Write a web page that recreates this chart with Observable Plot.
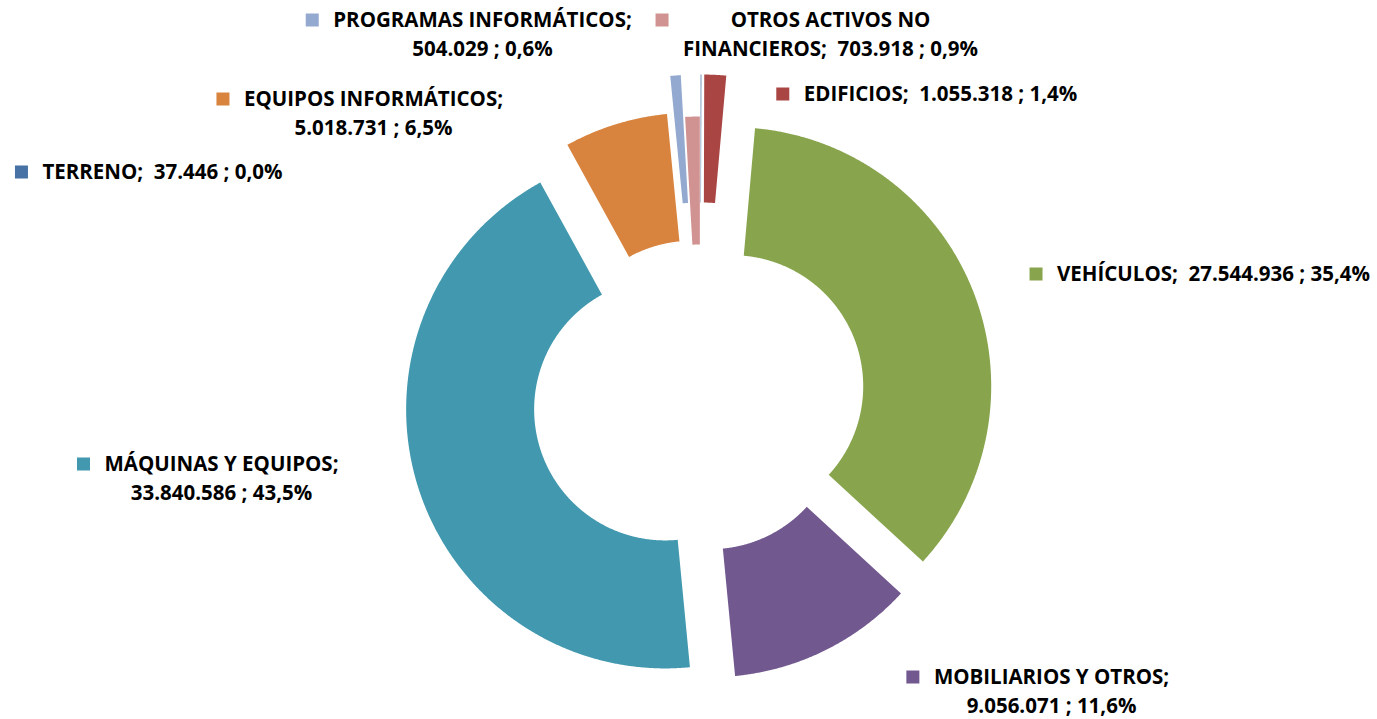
<!DOCTYPE html>
<html><head><meta charset="utf-8">
<script src="https://cdn.jsdelivr.net/npm/d3@7"></script>
<script src="https://cdn.jsdelivr.net/npm/@observablehq/plot@0.6"></script>
<style>body{margin:0;background:#fff;} svg text{white-space:pre;}</style>
</head><body><div id="chart"></div>
<script>
// ---- data ----
const categories = ["TERRENO","EDIFICIOS","VEHÍCULOS","MOBILIARIOS Y OTROS","MÁQUINAS Y EQUIPOS","EQUIPOS INFORMÁTICOS","PROGRAMAS INFORMÁTICOS","OTROS ACTIVOS NO FINANCIEROS"];
const values = [37446, 1055318, 27544936, 9056071, 33840586, 5018731, 504029, 703918];
// ---- style / layout ----
const colors = ["#4672A6","#A94644","#88A54E","#71588F","#4198AF","#D9843E","#93A9CF","#D19392"];
const explode = [65, 65, 34, 22, 37, 28, 65, 23];
const labelLayout = [
  {x:162, y:172, br:null},
  {x:940, y:94, br:null},
  {x:1213, y:274, br:null},
  {x:1051, y:677, br:";"},
  {x:221, y:464, br:";"},
  {x:373, y:99, br:";"},
  {x:482, y:20, br:";"},
  {x:830, y:20, br:"ACTIVOS NO"}
];
const W = 1377, H = 719, CX = 700, CY = 398, R = 259, RI = 131;
const FONT_SIZE = 20.5, FONT = "Open Sans", LINE_GAP = 28.5, SQ = 13, SQ_GAP = 14;

const loc = d3.formatLocale({decimal: ",", thousands: ".", grouping: [3], currency: ["", ""]});
const fmtV = loc.format(",d"), fmtP = loc.format(".1%");
const total = d3.sum(values);

// slices as closed polygons
const arcs = d3.pie().sort(null).value(d => d)(values);
const pts = [];
arcs.forEach((a, i) => {
  const mid = (a.startAngle + a.endAngle) / 2;
  const ox = CX + explode[i] * Math.sin(mid), oy = CY - explode[i] * Math.cos(mid);
  const n = Math.max(2, Math.ceil((a.endAngle - a.startAngle) / (Math.PI / 720)) + 1);
  for (let k = 0; k < n; k++) {
    const t = a.startAngle + (a.endAngle - a.startAngle) * k / (n - 1);
    pts.push({cat: categories[i], x: ox + R * Math.sin(t), y: oy - R * Math.cos(t)});
  }
  for (let k = n - 1; k >= 0; k--) {
    const t = a.startAngle + (a.endAngle - a.startAngle) * k / (n - 1);
    pts.push({cat: categories[i], x: ox + RI * Math.sin(t), y: oy - RI * Math.cos(t)});
  }
});

// labels
const ctx = document.createElement("canvas").getContext("2d");
ctx.font = `bold ${FONT_SIZE}px "${FONT}"`;
const textRows = [], squares = [];
categories.forEach((c, i) => {
  const full = `${c};  ${fmtV(values[i])} ; ${fmtP(values[i] / total)}`;
  const L = labelLayout[i];
  let lines = [full];
  if (L.br) {
    const idx = full.indexOf(L.br) + L.br.length;
    lines = [full.slice(0, idx).trim(), full.slice(idx).trim()];
  }
  const maxW = d3.max(lines, s => ctx.measureText(s).width);
  lines.forEach((s, j) => textRows.push({text: s, x: L.x, y: L.y + j * LINE_GAP}));
  const x2 = L.x - maxW / 2 - SQ_GAP;
  squares.push({cat: c, x1: x2 - SQ, x2: x2, y1: L.y - SQ / 2, y2: L.y + SQ / 2});
});

const chart = Plot.plot({
  width: W, height: H, margin: 0,
  x: {domain: [0, W], range: [0, W], axis: null},
  y: {domain: [0, H], range: [0, H], axis: null},
  color: {domain: categories, range: colors},
  style: {fontFamily: `"${FONT}"`, background: "#fff"},
  marks: [
    Plot.line(pts, {x: "x", y: "y", z: "cat", fill: "cat", stroke: "none", curve: "linear-closed"}),
    Plot.rect(squares, {x1: "x1", x2: "x2", y1: "y1", y2: "y2", fill: "cat"}),
    Plot.text(textRows, {x: "x", y: "y", text: "text", fontSize: FONT_SIZE, fontWeight: "bold", fill: "#000", textAnchor: "middle", lineAnchor: "middle"})
  ]
});
document.getElementById("chart").appendChild(chart);
</script>
</body></html>
